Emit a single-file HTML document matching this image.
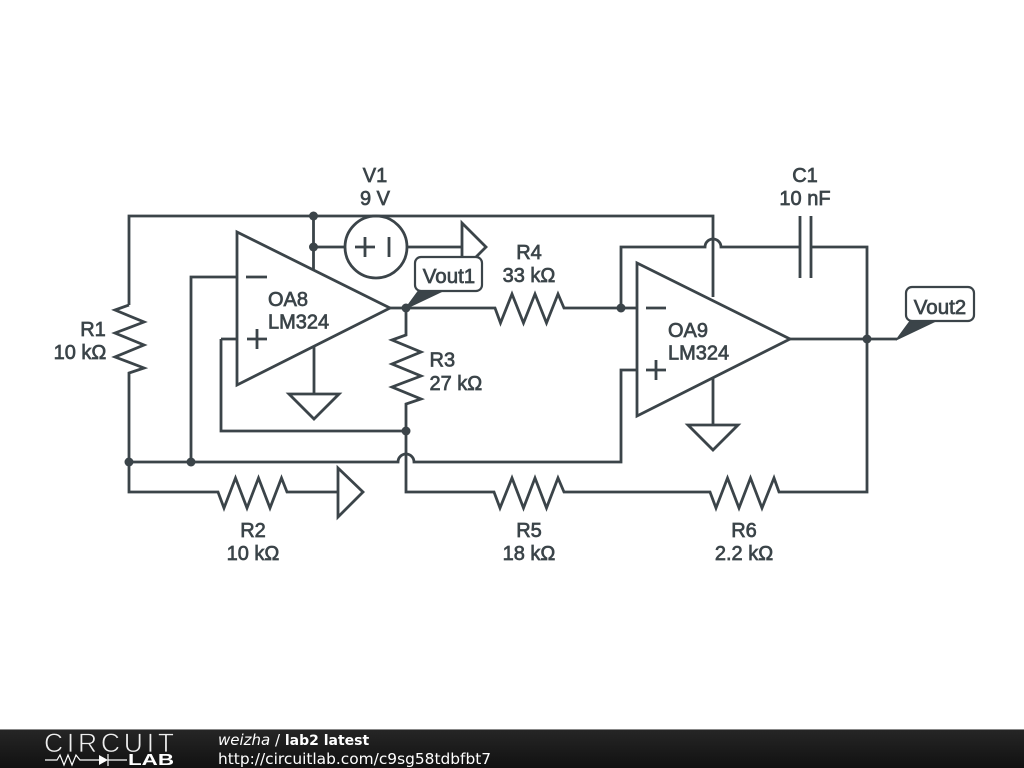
<!DOCTYPE html>
<html><head><meta charset="utf-8"><style>
html,body{margin:0;padding:0;background:#fff;width:1024px;height:768px;overflow:hidden}
svg{display:block}
.w{fill:none;stroke:#3b4449;stroke-width:2.8;stroke-linejoin:miter}
.t{font-family:"Liberation Sans",sans-serif;font-size:20px;fill:#3b4449;stroke:#3b4449;stroke-width:.7;text-anchor:middle}
.l{text-anchor:start}
.d{fill:#3b4449}
.f{font-family:"DejaVu Sans",sans-serif;fill:#fff}
</style></head><body>
<svg width="1024" height="768" viewBox="0 0 1024 768" xmlns="http://www.w3.org/2000/svg">
<defs><linearGradient id="g" x1="0" y1="0" x2="0" y2="1"><stop offset="0" stop-color="#262626"/><stop offset="1" stop-color="#111"/></linearGradient></defs>
<!-- wires -->
<path class="w" d="M129 305V216H713V247M713 247V297"/>
<path class="w" d="M129 305L115 310L144 322L115 333L144 345L115 357L144 368L129 373V492H218L224 508L235.500 478L247 508L258.500 478L270 508L281.500 478L287 492H338"/>
<path class="w" d="M338 468V517L363 492Z"/>
<path class="w" d="M129 462H398A8 8 0 0 1 414 462H621V370H637"/>
<path class="w" d="M191 462V277H237M221 339H237M221 339V431H406"/>
<path class="w" d="M313.500 216V270M313 247H345M407 247H462"/>
<circle class="w" cx="376" cy="247" r="31"/>
<path class="w" d="M355 247H375M365 237V257M389 237V257"/>
<path class="w" d="M462 223V271L486 247Z"/>
<!-- OA8 -->
<path class="w" d="M237 232V385L390 308Z"/>
<path class="w" d="M246 277H267M247 339H267M257 329V349"/>
<path class="w" d="M314 347V394M289 394H339L314 419Z"/>
<!-- output -->
<path class="w" d="M390 308H495L500.500 323L512 294L523.500 323L535 294L546.500 323L558 294L564 308H637"/>
<path class="w" d="M406 308V335L392 340L421 352L392 364L421 376L392 387L421 399L406 404V492H494L500 508L512 478L523.500 508L535 478L546.500 508L558 478L564 492H710L716 508L727.500 478L739 508L750.500 478L762 508L774 478L779 492H867V247H812"/>
<path class="w" d="M621 308V247H705A8 8 0 0 1 721 247H799"/>
<path class="w" d="M800 216V278M811 216V278"/>
<!-- OA9 -->
<path class="w" d="M637 263V416L790 339Z"/>
<path class="w" d="M646 308H666M646 370H666M656 360V380"/>
<path class="w" d="M713 378V425M688 425H738L713 450Z"/>
<path class="w" d="M790 339H897"/>
<!-- dots -->
<g class="d"><circle cx="313.500" cy="216" r="4.500"/><circle cx="313.500" cy="247" r="4.500"/><circle cx="406" cy="308" r="4.500"/><circle cx="406" cy="431" r="4.500"/><circle cx="129" cy="462" r="4.500"/><circle cx="191" cy="462" r="4.500"/><circle cx="621" cy="308" r="4.500"/><circle cx="867" cy="339" r="4.500"/></g>
<!-- flags -->
<path class="d" d="M405 309L419 290H445Z" stroke="#3b4449" stroke-width="1"/>
<rect x="415" y="257" width="67" height="34" rx="6" fill="#fff" stroke="#3b4449" stroke-width="2.200"/>
<path class="d" d="M896 340L910 321H936Z" stroke="#3b4449" stroke-width="1"/>
<rect x="906" y="287" width="68" height="34" rx="6" fill="#fff" stroke="#3b4449" stroke-width="2.200"/>
<!-- labels -->
<g class="t">
<text x="375" y="182">V1</text><text x="375" y="205">9 V</text>
<text x="805" y="182">C1</text><text x="805" y="205">10 nF</text>
<text x="529" y="259">R4</text><text x="529" y="282">33 kΩ</text>
<text x="93" y="336">R1</text><text x="80" y="359">10 kΩ</text>
<text class="l" x="429.500" y="366.500">R3</text><text class="l" x="429.500" y="390">27 kΩ</text>
<text x="253" y="537">R2</text><text x="253" y="560">10 kΩ</text>
<text x="529" y="537">R5</text><text x="529" y="560">18 kΩ</text>
<text x="744" y="537">R6</text><text x="744" y="560">2.2 kΩ</text>
<text class="l" x="268" y="306">OA8</text><text class="l" x="268" y="328.500">LM324</text>
<text class="l" x="668" y="337">OA9</text><text class="l" x="668" y="359.500">LM324</text>
<text x="449" y="283" font-size="20.500">Vout1</text><text x="940" y="314" font-size="20.500">Vout2</text>
</g>
<!-- footer -->
<rect x="0" y="729" width="1024" height="39" fill="url(#g)"/>
<rect x="0" y="729" width="1024" height="1" fill="#888"/>
<text x="44" y="752" font-family="'Liberation Sans',sans-serif" font-size="26.500" fill="#eee" stroke="#1c1c1c" stroke-width=".7" textLength="130" lengthAdjust="spacing">CIRCUIT</text>
<path d="M45 760H57L60 755L64 765L68 755L72 765L76 755L80 760H99M127 760H108M108 754V766" fill="none" stroke="#fff" stroke-width="1.2"/>
<path d="M99 755V765L108 760Z" fill="#fff"/>
<text x="128" y="765" font-family="'Liberation Sans',sans-serif" font-size="15.500" font-weight="bold" fill="#fff" textLength="46" lengthAdjust="spacingAndGlyphs">LAB</text>
<text class="f" x="218" y="745" font-size="15"><tspan font-style="italic">weizha</tspan> / <tspan font-weight="bold" font-size="14">lab2 latest</tspan></text>
<text class="f" x="218" y="764" font-size="15.400">http://circuitlab.com/c9sg58tdbfbt7</text>
</svg>
</body></html>
